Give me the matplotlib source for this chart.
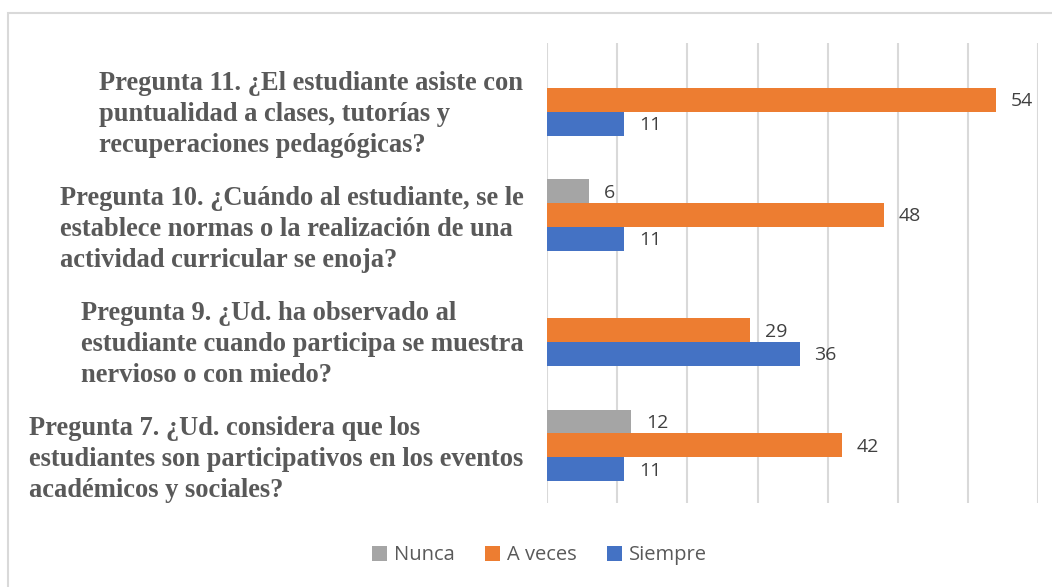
import matplotlib.pyplot as plt
from matplotlib.patches import Rectangle
import numpy as np

# categories, bottom to top
preguntas = [
    "Pregunta 7. ¿Ud. considera que los\nestudiantes son participativos en los eventos\nacadémicos y sociales?",
    "Pregunta 9. ¿Ud. ha observado al\nestudiante cuando participa se muestra\nnervioso o con miedo?",
    "Pregunta 10. ¿Cuándo al estudiante, se le\nestablece normas o la realización de una\nactividad curricular se enoja?",
    "Pregunta 11. ¿El estudiante asiste con\npuntualidad a clases, tutorías y\nrecuperaciones pedagógicas?",
]
series = ["Nunca", "A veces", "Siempre"]
nunca = [12, 0, 6, 0]
a_veces = [42, 29, 48, 64]          # bar lengths as drawn in the source
siempre = [11, 36, 11, 11]
# data labels as printed (the source labels the longest bar "54")
nunca_lbl = ["12", "", "6", ""]
a_veces_lbl = ["42", "29", "48", "54"]
siempre_lbl = ["11", "36", "11", "11"]

colors = ["#A5A5A5", "#ED7D31", "#4472C4"]

fig = plt.figure(figsize=(10.52, 5.87), dpi=100)
ax = fig.add_axes([0.5203, 0.1431, 0.4661, 0.7842])

y = np.arange(len(preguntas))
h = 0.208
vals = [nunca, a_veces, siempre]
lbls = [nunca_lbl, a_veces_lbl, siempre_lbl]
offsets = [h, 0, -h]
for s, v, l, off, c in zip(series, vals, lbls, offsets, colors):
    bars = ax.barh(y + off, v, height=h, color=c, label=s)
    for b, t in zip(bars, l):
        if t:
            ax.text(b.get_width() + 2.1, b.get_y() + h / 2 - 0.01, t, va="center", ha="left",
                    fontsize=14, color="#404040", family="Open Sans")

ax.set_xlim(0, 70)
ax.set_ylim(-0.5, 3.5)
ax.set_xticks(np.arange(0, 71, 10))
ax.set_xticklabels([])
ax.tick_params(axis="both", length=0)
ax.grid(axis="x", color="#D9D9D9", linewidth=1.5)
ax.set_axisbelow(True)
for sp in ax.spines.values():
    sp.set_visible(False)

# category labels: left-aligned blocks, right edge near the axis, a bit below the bar group
ax.set_yticks(y)
ax.set_yticklabels([])
for yi, txt in zip(y, preguntas):
    ax.annotate(txt, xy=(0, yi), xycoords=("axes fraction", "data"),
                xytext=(-24, -14), textcoords="offset pixels",
                ha="right", va="center", multialignment="left",
                fontsize=19.1, fontweight="bold", family="Liberation Serif",
                color="#595959", linespacing=1.31)

leg = fig.legend(loc="center", bbox_to_anchor=(0.513, 0.054), ncol=3, frameon=False,
                 prop={"family": "Open Sans", "size": 14.5}, handlelength=0.75, handleheight=0.75,
                 columnspacing=1.5, handletextpad=0.35)
for t in leg.get_texts():
    t.set_color("#595959")

fig.patches.append(Rectangle((8 / 1052, -0.1), 1.2, 1 - 13 / 587 + 0.1, transform=fig.transFigure,
                             fill=False, edgecolor="#D9D9D9", linewidth=1.5))

fig.savefig("out.png", dpi=100)
